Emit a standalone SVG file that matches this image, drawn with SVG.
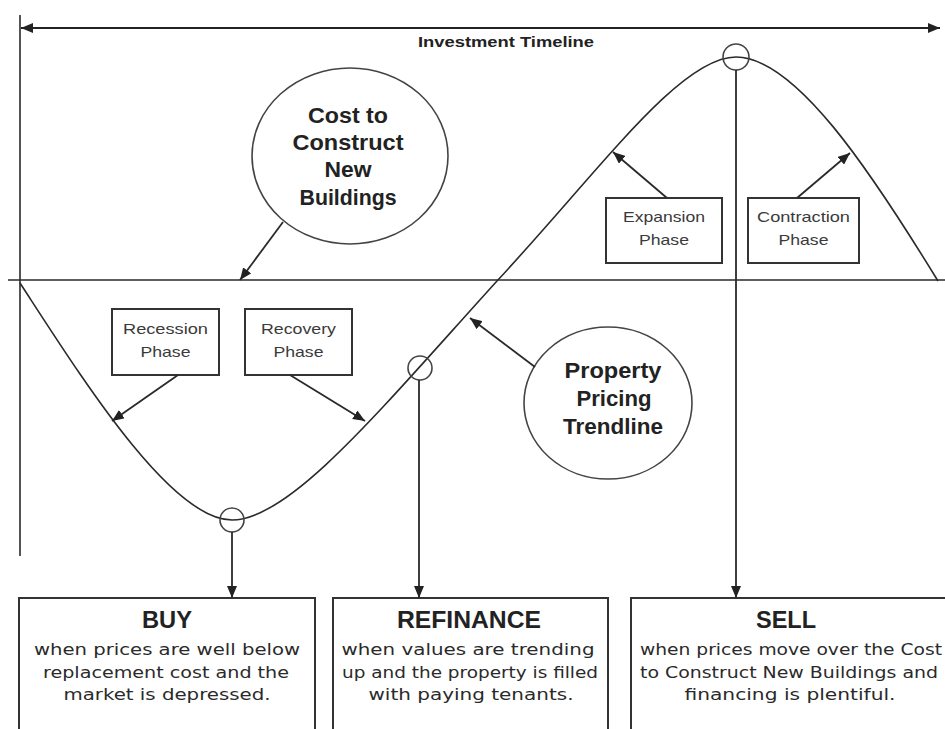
<svg xmlns="http://www.w3.org/2000/svg" width="945" height="729" viewBox="0 0 945 729">
<style>
.ln{stroke:#2a2a2a;stroke-width:1.6;fill:none}
.bx{stroke:#333;stroke-width:2;fill:#fff}
.ov{stroke:#444;stroke-width:1.6;fill:none}
.ar{stroke:#2a2a2a;stroke-width:1.8;fill:none;marker-end:url(#ah)}
.ph{font-family:"Liberation Sans",Arial,sans-serif;font-size:15px;fill:#3a3a3a;text-anchor:middle}
.cc{font-family:"Liberation Sans",Arial,sans-serif;font-size:22px;font-weight:bold;fill:#222;text-anchor:middle}
.tt{font-family:"Liberation Sans",Arial,sans-serif;font-size:24px;font-weight:bold;fill:#222;text-anchor:middle}
.bd{font-family:"DejaVu Sans","Liberation Sans",sans-serif;font-size:16px;fill:#2a2a2a;text-anchor:middle}
.tl{font-family:"Liberation Sans",Arial,sans-serif;font-size:15px;font-weight:bold;fill:#222;text-anchor:middle}
</style>
<defs>
<marker id="ah" viewBox="0 0 12 10" refX="12" refY="5" markerWidth="12" markerHeight="10" orient="auto" markerUnits="userSpaceOnUse">
<path d="M0,0 L12,5 L0,10 z" fill="#222"/>
</marker>
<marker id="ta" viewBox="0 0 12 10" refX="12" refY="5" markerWidth="12" markerHeight="10" orient="auto-start-reverse" markerUnits="userSpaceOnUse">
<path d="M0,0 L12,5 L0,10 z" fill="#222"/>
</marker>
</defs>
<rect width="945" height="729" fill="#fff"/>

<g id="axes">
<line class="ln" x1="20" y1="15" x2="20" y2="556" stroke-width="2"/>
<line x1="21" y1="28" x2="940" y2="28" stroke="#222" stroke-width="2.2" marker-start="url(#ta)" marker-end="url(#ta)"/>
<text class="tl" x="506" y="47" textLength="176" lengthAdjust="spacingAndGlyphs">Investment Timeline</text>
<line class="ln" x1="8" y1="280" x2="945" y2="280"/>
</g>

<g id="trendline">
<path class="ln" d="M20,283 C80,375 170,520 232,520 C290,520 380,410 497,281 C600,170 680,57 736,57 C795,57 870,170 938,281"/>
<circle class="ov" cx="232" cy="520" r="12"/>
<circle class="ov" cx="420" cy="368" r="12"/>
<circle class="ov" cx="736" cy="57" r="13"/>
</g>

<g id="cost-circle">
<ellipse class="ov" cx="350" cy="156" rx="98" ry="88"/>
<text class="cc" x="348" y="123" textLength="80" lengthAdjust="spacingAndGlyphs">Cost to</text>
<text class="cc" x="348" y="150" textLength="111" lengthAdjust="spacingAndGlyphs">Construct</text>
<text class="cc" x="348" y="177" textLength="47" lengthAdjust="spacingAndGlyphs">New</text>
<text class="cc" x="348" y="205" textLength="97" lengthAdjust="spacingAndGlyphs">Buildings</text>
</g>

<g id="pricing-circle">
<ellipse class="ov" cx="608" cy="403" rx="84" ry="76"/>
<text class="cc" x="613" y="378" textLength="97" lengthAdjust="spacingAndGlyphs">Property</text>
<text class="cc" x="614" y="406" textLength="75" lengthAdjust="spacingAndGlyphs">Pricing</text>
<text class="cc" x="613" y="434" textLength="100" lengthAdjust="spacingAndGlyphs">Trendline</text>
</g>

<g id="recession">
<rect class="bx" x="112" y="309" width="107" height="66"/>
<text class="ph" x="165.5" y="334" textLength="85" lengthAdjust="spacingAndGlyphs">Recession</text>
<text class="ph" x="165.5" y="357" textLength="50" lengthAdjust="spacingAndGlyphs">Phase</text>
</g>

<g id="recovery">
<rect class="bx" x="245" y="309" width="107" height="66"/>
<text class="ph" x="298.5" y="334" textLength="75" lengthAdjust="spacingAndGlyphs">Recovery</text>
<text class="ph" x="298.5" y="357" textLength="50" lengthAdjust="spacingAndGlyphs">Phase</text>
</g>

<g id="expansion">
<rect class="bx" x="606" y="198" width="116" height="65"/>
<text class="ph" x="664" y="222" textLength="82" lengthAdjust="spacingAndGlyphs">Expansion</text>
<text class="ph" x="664" y="245" textLength="50" lengthAdjust="spacingAndGlyphs">Phase</text>
</g>

<g id="contraction">
<rect class="bx" x="748" y="198" width="111" height="65"/>
<text class="ph" x="803.5" y="222" textLength="93" lengthAdjust="spacingAndGlyphs">Contraction</text>
<text class="ph" x="803.5" y="245" textLength="50" lengthAdjust="spacingAndGlyphs">Phase</text>
</g>

<g id="buy">
<rect class="bx" x="19" y="598" width="296" height="140"/>
<text class="tt" x="167" y="628" textLength="50" lengthAdjust="spacingAndGlyphs">BUY</text>
<text class="bd" x="167" y="655" textLength="266" lengthAdjust="spacingAndGlyphs">when prices are well below</text>
<text class="bd" x="166" y="678" textLength="246" lengthAdjust="spacingAndGlyphs">replacement cost and the</text>
<text class="bd" x="167" y="700" textLength="207" lengthAdjust="spacingAndGlyphs">market is depressed.</text>
</g>

<g id="refinance">
<rect class="bx" x="333" y="598" width="275" height="140"/>
<text class="tt" x="469" y="628" textLength="144" lengthAdjust="spacingAndGlyphs">REFINANCE</text>
<text class="bd" x="468" y="655" textLength="253" lengthAdjust="spacingAndGlyphs">when values are trending</text>
<text class="bd" x="470" y="678" textLength="256" lengthAdjust="spacingAndGlyphs">up and the property is filled</text>
<text class="bd" x="471" y="700" textLength="205" lengthAdjust="spacingAndGlyphs">with paying tenants.</text>
</g>

<g id="sell">
<rect class="bx" x="631" y="598" width="330" height="140"/>
<text class="tt" x="786" y="628" textLength="60" lengthAdjust="spacingAndGlyphs">SELL</text>
<text class="bd" x="791" y="655" textLength="302" lengthAdjust="spacingAndGlyphs">when prices move over the Cost</text>
<text class="bd" x="789" y="678" textLength="298" lengthAdjust="spacingAndGlyphs">to Construct New Buildings and</text>
<text class="bd" x="790" y="700" textLength="211" lengthAdjust="spacingAndGlyphs">financing is plentiful.</text>
</g>

<g id="connectors">
<path class="ar" d="M283,222 L240,280"/>
<path class="ar" d="M178,375 L112,421"/>
<path class="ar" d="M290,375 L365,421"/>
<path class="ar" d="M535,367 L470,318"/>
<path class="ar" d="M667,198 L613,152"/>
<path class="ar" d="M797,198 L850,153"/>
<path class="ar" d="M232,532 L232,598"/>
<path class="ar" d="M419,380 L419,598"/>
<path class="ar" d="M736,70 L736,598"/>
</g>
</svg>
